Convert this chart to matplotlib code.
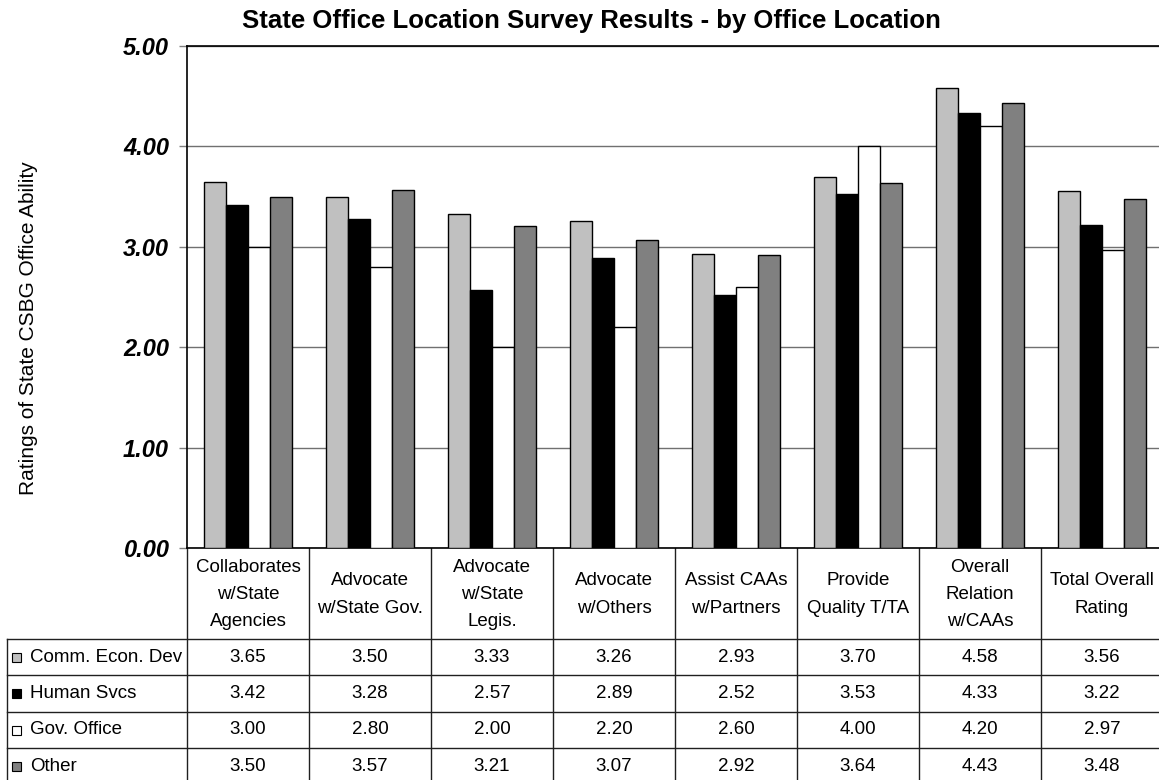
import matplotlib
matplotlib.use("Agg")
import matplotlib.pyplot as plt
from matplotlib.patches import Rectangle

plt.rcParams['font.family'] = ['Liberation Sans', 'DejaVu Sans']

categories = ["Collaborates\nw/State\nAgencies", "Advocate\nw/State Gov.",
              "Advocate\nw/State\nLegis.", "Advocate\nw/Others",
              "Assist CAAs\nw/Partners", "Provide\nQuality T/TA",
              "Overall\nRelation\nw/CAAs", "Total Overall\nRating"]
series = ["Comm. Econ. Dev", "Human Svcs", "Gov. Office", "Other"]
comm_econ = [3.65, 3.50, 3.33, 3.26, 2.93, 3.70, 4.58, 3.56]
human_svcs = [3.42, 3.28, 2.57, 2.89, 2.52, 3.53, 4.33, 3.22]
gov_office = [3.00, 2.80, 2.00, 2.20, 2.60, 4.00, 4.20, 2.97]
other = [3.50, 3.57, 3.21, 3.07, 2.92, 3.64, 4.43, 3.48]
values = [comm_econ, human_svcs, gov_office, other]
colors = ["#c0c0c0", "#000000", "#ffffff", "#808080"]
yticks = [0, 1, 2, 3, 4, 5]

W, H = 1159, 780
# layout in pixels
left, bottom_px, top_px = 187, 548, 46
colw = 122
header_bot = 639
rowh = 36.3
leg_left = 7

fig = plt.figure(figsize=(W / 100, H / 100), dpi=100)

# overlay in pixel coords for the data table
ov = fig.add_axes([0, 0, 1, 1])
ov.set_xlim(0, W)
ov.set_ylim(H, 0)
ov.axis("off")

ax = fig.add_axes([left / W, (H - bottom_px) / H, colw * 8 / W, (bottom_px - top_px) / H])
n = len(categories)
bw = 0.18
for j, (vals, c) in enumerate(zip(values, colors)):
    xs = [i + 0.5 - 2 * bw + j * bw for i in range(n)]
    ax.bar(xs, vals, width=bw, align="edge", color=c, edgecolor="black",
           linewidth=1.0, zorder=3)

ax.set_xlim(0, n)
ax.set_ylim(0, 5)
ax.set_yticks(yticks)
ax.set_yticklabels([f"{v:.2f}" for v in yticks], fontsize=17,
                   fontweight="bold", fontstyle="italic")
ax.set_xticks([])
ax.tick_params(axis="y", direction="out", length=6, width=1, color="#808080", pad=7)
ax.yaxis.grid(True, color="#707070", linewidth=1, zorder=0)
ax.set_axisbelow(True)
ax.spines["right"].set_visible(False)
for s in ["left", "bottom", "top"]:
    ax.spines[s].set_color("black")
    ax.spines[s].set_linewidth(1.2)

fig.text(591 / W, 1 - 21 / H, "State Office Location Survey Results - by Office Location",
         ha="center", va="center", fontsize=18.5, fontweight="bold")
fig.text(29 / W, 1 - 328 / H, "Ratings of State CSBG Office Ability", rotation=90,
         ha="center", va="center", fontsize=15)

# table lines
line_kw = dict(color="#202020", linewidth=1)
bottom_edge = header_bot + rowh * len(series)
for i in range(n + 1):
    x = left + i * colw
    ov.plot([x, x], [bottom_px, bottom_edge], **line_kw)
ov.plot([leg_left, leg_left], [header_bot, bottom_edge], **line_kw)
for k in range(len(series)):
    y = header_bot + k * rowh
    ov.plot([leg_left, left + n * colw], [y, y], **line_kw)

# header labels
for i, cat in enumerate(categories):
    ov.text(left + (i + 0.5) * colw, (bottom_px + header_bot) / 2 + 1, cat,
            ha="center", va="center", fontsize=13.5, linespacing=1.8)

# rows
for k, (name, vals, c) in enumerate(zip(series, values, colors)):
    yc = header_bot + (k + 0.5) * rowh
    ov.add_patch(Rectangle((12, yc - 4), 9, 9, facecolor=c, edgecolor="black", linewidth=0.8))
    ov.text(30, yc, name, ha="left", va="center", fontsize=13.5)
    for i, v in enumerate(vals):
        ov.text(left + (i + 0.5) * colw, yc, f"{v:.2f}", ha="center", va="center",
                fontsize=13.5)

fig.savefig("out.png", dpi=100)
